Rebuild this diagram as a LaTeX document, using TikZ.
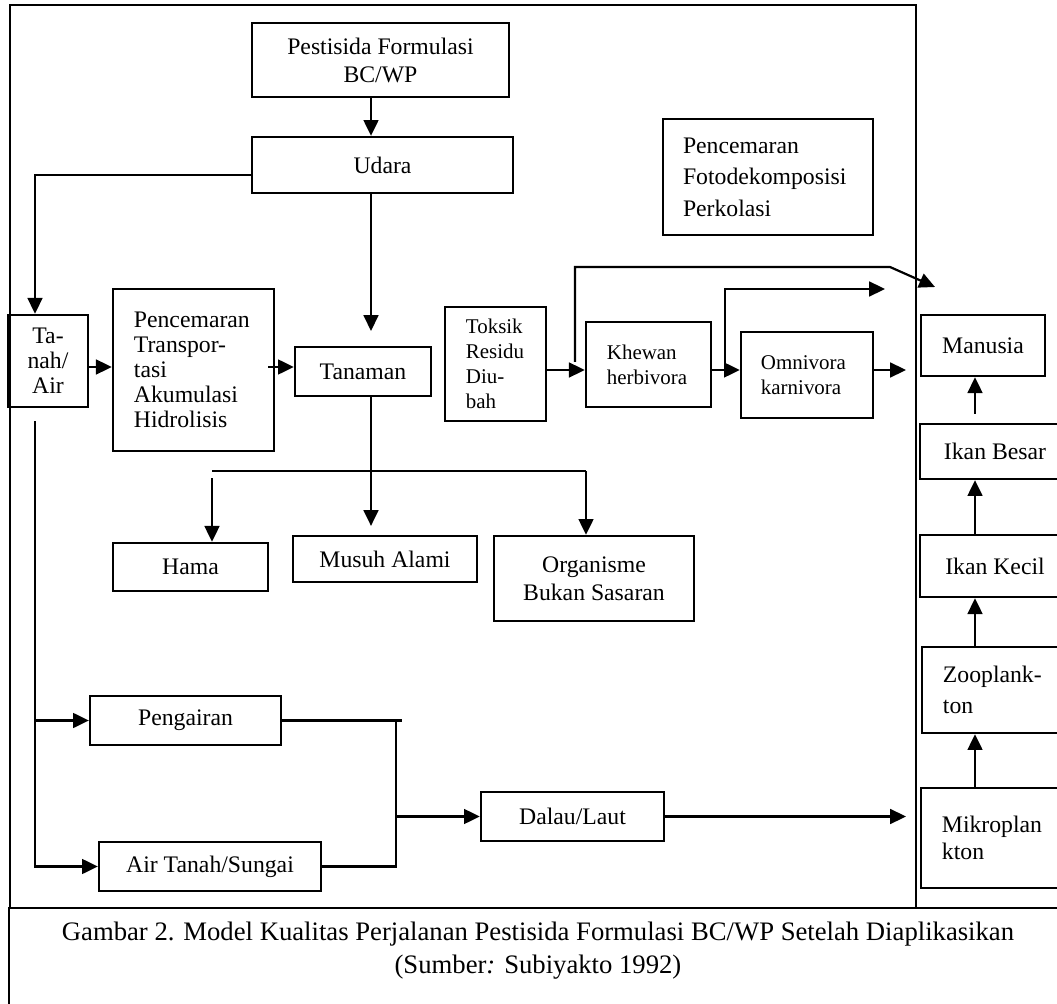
\documentclass[tikz,border=0pt]{standalone}
\usepackage{fontspec}
\setmainfont{Liberation Serif}
\usetikzlibrary{arrows.meta}

\begin{document}
\begin{tikzpicture}[>={Triangle[length=8pt,width=7.5pt]}, x=0.506pt, y=-0.506pt,
    font=\fontsize{12}{12.7}\selectfont,
    kotak/.style={draw, line width=1.2pt, align=center, inner sep=0pt},
    kiri/.style={kotak, align=left, text width=#1},
    kecil/.style={font=\fontsize{10.6}{12.6}\selectfont},
    garis/.style={line width=1.1pt}]
  \path[use as bounding box] (0,0) rectangle (1057,1004);
  \clip (0,0) rectangle (1057,1004);

  % bingkai
  \draw[line width=1.2pt] (916,908) -- (916,5) -- (10,5) -- (10,908);
  \draw[line width=1.2pt] (1090,908) -- (9,908) -- (9,1030);

  % kotak
  \node[kotak, minimum width=130pt, minimum height=37.4pt, font=\fontsize{12}{14.2}\selectfont] (pestisida) at (380.5,60) {Pestisida Formulasi\\BC/WP};
  \node[kotak, minimum width=132.1pt, minimum height=28.3pt] (udara) at (382.5,165) {Udara};
  \node[kiri=86pt, minimum width=106.3pt, minimum height=58.7pt, font=\fontsize{12}{16}\selectfont] (proses) at (768,177) {Pencemaran\\Fotodekomposisi\\Perkolasi};
  \node[kotak, minimum width=40.5pt, minimum height=46.6pt] (tanah) at (48,361) {Ta-\\nah/\\Air};
  \node[kiri=60.3pt, minimum width=81.5pt, minimum height=82pt] (pencemaran) at (193.5,370) {Pencemaran\\Transpor-\\tasi\\Akumulasi\\Hidrolisis};
  \node[kotak, minimum width=68.8pt, minimum height=24.8pt] (tanaman) at (363,371.5) {Tanaman};
  \node[kiri=29.9pt, kecil, minimum width=51.1pt, minimum height=57.7pt] (toksik) at (495.5,364) {Toksik\\Residu\\Diu-\\bah};
  \node[kiri=42.1pt, kecil, minimum width=63.3pt, minimum height=43pt] (khewan) at (648.5,364.5) {Khewan\\herbivora};
  \node[kiri=46.6pt, kecil, minimum width=66.8pt, minimum height=43.5pt] (omnivora) at (807,375) {Omnivora\\karnivora};
  \node[kotak, minimum width=78.4pt, minimum height=24.3pt] (hama) at (190.5,567) {Hama};
  \node[kotak, minimum width=93.1pt, minimum height=23.3pt] (musuh) at (385,559) {Musuh Alami};
  \node[kotak, minimum width=101.2pt, minimum height=43pt, font=\fontsize{12}{14.2}\selectfont] (organisme) at (594,578.5) {Organisme\\Bukan Sasaran};
  \node[kotak, minimum width=96.6pt, minimum height=24.8pt] (pengairan) at (185.5,720.5) {Pengairan};
  \node[kotak, minimum width=112.3pt, minimum height=24.8pt] (airtanah) at (210,866.5) {Air Tanah/Sungai};
  \node[kotak, minimum width=92.6pt, minimum height=24.8pt] (dalau) at (572.5,816.5) {Dalau/Laut};
  \node[kotak, minimum width=62.7pt, minimum height=30.9pt] (manusia) at (983,345.5) {Manusia};
  \node[kotak, minimum width=75.9pt, minimum height=27.8pt] (besar) at (995,451.5) {Ikan Besar};
  \node[kotak, minimum width=75.9pt, minimum height=31.4pt] (kecil) at (995,566) {Ikan Kecil};
  \node[kiri=53.7pt, minimum width=74.9pt, minimum height=43.5pt, font=\fontsize{12}{16}\selectfont] (zoo) at (996,690) {Zooplank-\\ton};
  \node[kiri=54.2pt, minimum width=75.4pt, minimum height=50.6pt, font=\fontsize{12}{13.5}\selectfont] (mikro) at (995.5,838) {Mikroplan\\kton};

  % titik bantu
  \coordinate (jalur) at (371,0);
  \coordinate (kiri) at (35,0);
  \coordinate (baris) at (0,367);
  \coordinate (baris2) at (0,370);
  \coordinate (cabang1) at (212,471);
  \coordinate (cabang2) at (586,471);
  \coordinate (naik1) at (575,362);
  \coordinate (belok1) at (890,267);
  \coordinate (ujung1) at (935,287);
  \coordinate (naik2) at (725,365);
  \coordinate (ujung2) at (885,289);
  \coordinate (batas) at (906,0);
  \coordinate (gabung) at (396,0);
  \coordinate (kanan) at (975,0);

  % panah
  \draw[garis,->] (pestisida.south -| jalur) -- (udara.north -| jalur);
  \draw[garis,->] ([yshift=-5pt]udara.west) -| (tanah.north -| kiri);
  \draw[garis,->,shorten >=7.5pt] (udara.south -| jalur) -- (tanaman.north -| jalur);
  \draw[garis,->] (tanah.east |- baris) -- (pencemaran.west |- baris);
  \draw[garis,->] (pencemaran.east |- baris) ++(-7,0) -- (tanaman.west |- baris);
  \draw[garis,->,shorten >=4.5pt] (tanaman.south -| jalur) -- (musuh.north -| jalur);
  \draw[garis] (cabang1) -- (cabang2);
  \draw[garis,->] (cabang2) -- (cabang2 |- organisme.north);
  \draw[garis,->] (cabang1) ++(0,7) -- (cabang1 |- hama.north);

  \draw[garis,->] (toksik.east |- baris2) -- (khewan.west |- baris2);
  \draw[garis,->] (naik1) |- (belok1) -- (ujung1);
  \draw[garis,->] (khewan.east |- baris2) -- (omnivora.west |- baris2);
  \draw[garis,->] (naik2) |- (ujung2);
  \draw[garis,->] (omnivora.east |- baris2) -- (batas |- baris2);

  \draw[garis,->] (tanah.south -| kiri) ++(0,13) |- (airtanah.west);
  \draw[garis,->] (pengairan.west -| kiri) -- (pengairan.west);
  \draw[garis] (pengairan.east) -- (pengairan.east -| gabung) -- ++(6,0);
  \draw[garis] (pengairan.east -| gabung) -- (airtanah.east -| gabung) -- (airtanah.east);
  \draw[garis,->] (dalau.west -| gabung) -- (dalau.west);
  \draw[garis,->] (dalau.east) -- (batas |- dalau.east);

  \draw[garis,->] (besar.north -| kanan) ++(0,-9) -- (manusia.south -| kanan);
  \draw[garis,->] (kecil.north -| kanan) -- (besar.south -| kanan);
  \draw[garis,->] (zoo.north -| kanan) -- (kecil.south -| kanan);
  \draw[garis,->] (mikro.north -| kanan) -- (zoo.south -| kanan);

  % keterangan
  \node[align=center, font=\fontsize{13.5}{16.7}\selectfont] (judul) at (538,951)
    {Gambar 2. Model Kualitas Perjalanan Pestisida Formulasi BC/WP Setelah Diaplikasikan\\(Sumber\textit{:} Subiyakto 1992)};
\end{tikzpicture}
\end{document}
